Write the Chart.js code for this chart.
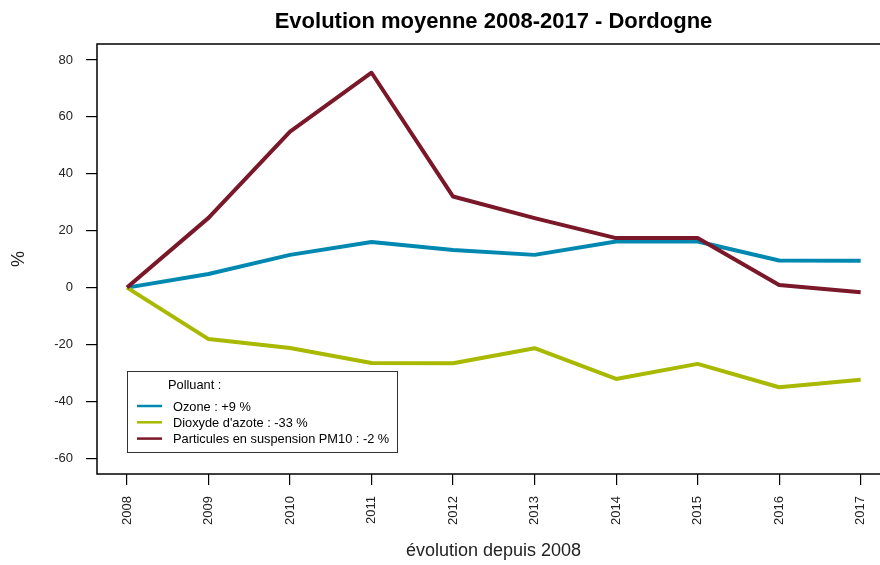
<!DOCTYPE html>
<html>
<head>
<meta charset="utf-8">
<script src="https://cdn.jsdelivr.net/npm/chart.js@4/dist/chart.umd.min.js"></script>
<style>
    html, body { margin: 0; padding: 0; background: #fff; overflow: hidden; }
    #wrap { width: 900px; height: 565px; }
</style>
</head>
<body>
<div id="wrap"><canvas id="chart" width="900" height="565"></canvas></div>
<script>
// ===== Data =====
const years = [2008, 2009, 2010, 2011, 2012, 2013, 2014, 2015, 2016, 2017];
const ozone = [0, 4.8, 11.5, 16, 13.2, 11.5, 16.2, 16.2, 9.5, 9.4];
const no2 = [0, -18.1, -21.2, -26.5, -26.6, -21.3, -32.1, -26.8, -35, -32.4];
const pm10 = [0, 24.5, 54.8, 75.5, 32, 24.4, 17.4, 17.4, 0.9, -1.6];
const yTicks = [-60, -40, -20, 0, 20, 40, 60, 80];
const seriesLabels = ['Ozone : +9 %', "Dioxyde d'azote : -33 %", 'Particules en suspension PM10 : -2 %'];

const FONT = '"Liberation Sans", Arial, sans-serif';
const toPts = vals => vals.map((v, i) => ({ x: years[i], y: v }));

// Frame (box) + title + in-plot legend, R style
const rFrame = {
    id: 'rFrame',
    afterDraw(chart) {
        const { ctx, chartArea: a } = chart;
        ctx.save();
        ctx.strokeStyle = '#000';
        ctx.lineWidth = 1.5;
        ctx.strokeRect(a.left, a.top, a.right - a.left, a.bottom - a.top);

        // title
        ctx.fillStyle = '#000';
        ctx.font = 'bold 22px ' + FONT;
        ctx.textAlign = 'center';
        ctx.textBaseline = 'middle';
        ctx.fillText('Evolution moyenne 2008-2017 - Dordogne', (a.left + a.right) / 2, 22);

        // legend
        const lx = a.left + 30, ly = a.bottom - 103, lw = 270, lh = 81;
        ctx.fillStyle = '#fff';
        ctx.fillRect(lx, ly, lw, lh);
        ctx.strokeStyle = '#333';
        ctx.lineWidth = 1;
        ctx.strokeRect(lx + 0.5, ly + 0.5, lw, lh);
        ctx.font = '12.8px ' + FONT;
        ctx.textAlign = 'left';
        ctx.fillStyle = '#000';
        ctx.fillText('Polluant :', lx + 41, ly + 14);
        chart.data.datasets.forEach((ds, i) => {
            const y = ly + 35 + i * 16.3;
            ctx.strokeStyle = ds.borderColor;
            ctx.lineWidth = 2.5;
            ctx.beginPath();
            ctx.moveTo(lx + 10, y);
            ctx.lineTo(lx + 35, y);
            ctx.stroke();
            ctx.fillStyle = '#000';
            ctx.fillText(ds.label, lx + 46, y + 1);
        });
        ctx.restore();
    }
};

new Chart(document.getElementById('chart'), {
    type: 'line',
    data: {
        datasets: [
            { label: seriesLabels[0], data: toPts(ozone), borderColor: '#0088B0', order: 3 },
            { label: seriesLabels[1], data: toPts(no2), borderColor: '#A8B900', order: 2 },
            { label: seriesLabels[2], data: toPts(pm10), borderColor: '#7A1729', order: 1 }
        ]
    },
    options: {
        responsive: false,
        animation: false,
        layout: { padding: { top: 44, right: 10, left: 0, bottom: 0 } },
        elements: {
            line: { borderWidth: 4, tension: 0, borderJoinStyle: 'round', fill: false },
            point: { radius: 0, hoverRadius: 0 }
        },
        plugins: { legend: { display: false }, title: { display: false }, tooltip: { enabled: false } },
        scales: {
            x: {
                type: 'linear',
                min: 2007.632,
                max: 2017.36,
                afterBuildTicks: s => { s.ticks = years.map(v => ({ value: v })); },
                afterFit: s => { s.height = 91; },
                grid: { drawOnChartArea: false, drawTicks: true, tickLength: 11, color: '#000', lineWidth: 1.2 },
                border: { display: false },
                ticks: {
                    autoSkip: false, minRotation: 90, maxRotation: 90, padding: 11,
                    color: '#222', font: { family: FONT, size: 13 },
                    callback: v => String(v)
                },
                title: {
                    display: true, text: 'évolution depuis 2008', color: '#222',
                    font: { family: FONT, size: 18 }, padding: { top: 0, bottom: 3 }
                }
            },
            y: {
                min: -65.5,
                max: 85.6,
                afterBuildTicks: s => { s.ticks = yTicks.map(v => ({ value: v })); },
                afterFit: s => { s.width = 97; },
                grid: { drawOnChartArea: false, drawTicks: true, tickLength: 11, color: '#000', lineWidth: 1.2 },
                border: { display: false },
                ticks: { padding: 13, color: '#222', font: { family: FONT, size: 13 } },
                title: {
                    display: true, text: '%', color: '#222',
                    font: { family: FONT, size: 18 }, padding: { top: 8, bottom: 0 }
                }
            }
        }
    },
    plugins: [rFrame]
});
</script>
</body>
</html>
